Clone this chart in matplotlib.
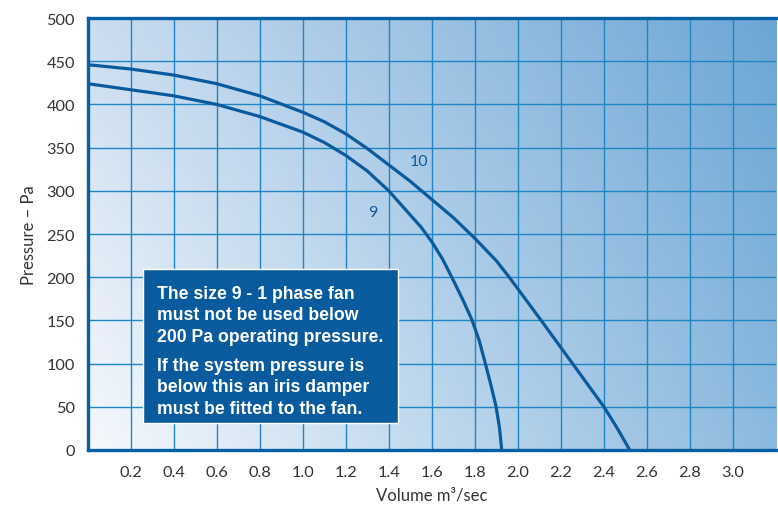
import numpy as np
import matplotlib.pyplot as plt

# Fan curves (volume m3/sec, pressure Pa)
vol_10 = [0.0, 0.2, 0.4, 0.6, 0.8, 1.0, 1.1, 1.2, 1.3, 1.4, 1.5, 1.6, 1.7, 1.8,
          1.9, 1.96, 2.04, 2.12, 2.19, 2.26, 2.33, 2.40, 2.46, 2.52]
pres_10 = [446, 441, 434, 424, 410, 391, 380, 366, 349, 330, 311, 290, 269, 245,
           219, 200, 173, 146, 122, 98, 74, 50, 26, 0]

vol_9 = [0.0, 0.2, 0.4, 0.6, 0.8, 1.0, 1.1, 1.2, 1.3, 1.4, 1.5, 1.55, 1.6, 1.65,
         1.693, 1.744, 1.786, 1.82, 1.848, 1.875, 1.899, 1.915, 1.925]
pres_9 = [424, 417, 410, 400, 386, 368, 356, 341, 323, 300, 272, 258, 241, 221,
          200, 174, 151, 127, 101, 75, 50, 25, 0]

x_ticks = [0.2, 0.4, 0.6, 0.8, 1.0, 1.2, 1.4, 1.6, 1.8, 2.0, 2.2, 2.4, 2.6, 2.8, 3.0]
y_ticks = [0, 50, 100, 150, 200, 250, 300, 350, 400, 450, 500]

note = ("The size 9 - 1 phase fan\nmust not be used below\n200 Pa operating pressure.")
note2 = ("If the system pressure is\nbelow this an iris damper\nmust be fitted to the fan.")

DARK = '#0a5b9e'
GRID = '#1f86c6'
TXT = '#333333'

plt.rcParams['font.family'] = ['Lato', 'DejaVu Sans']

fig = plt.figure(figsize=(7.78, 5.10), dpi=100)
ax = fig.add_axes([0.1125, 0.1157, 0.885, 0.8470])
ax.set_xlim(0, 3.2)
ax.set_ylim(0, 500)

# background gradient (bilinear between four corner colours)
c_bl = np.array([0xf6, 0xf9, 0xfd]) / 255
c_tl = np.array([0xcb, 0xdd, 0xf0]) / 255
c_br = np.array([0x8c, 0xba, 0xdf]) / 255
c_tr = np.array([0x6c, 0xa6, 0xd5]) / 255
u = np.linspace(0, 1, 300)[None, :, None]
v = np.linspace(0, 1, 200)[:, None, None]
img = (c_bl * (1 - u) * (1 - v) + c_br * u * (1 - v)
       + c_tl * (1 - u) * v + c_tr * u * v)
ax.imshow(img, extent=[0, 3.2, 0, 500], origin='lower', aspect='auto', zorder=0)

ax.set_xticks(x_ticks)
ax.set_yticks(y_ticks)
ax.grid(True, color=GRID, linewidth=1.0, zorder=1)
ax.set_axisbelow(False)
ax.tick_params(length=0, labelsize=11.7, labelcolor=TXT)
ax.tick_params(axis='x', pad=11)
ax.tick_params(axis='y', pad=9)
ax.set_xticklabels([f'{t:.1f}' for t in x_ticks])

for side in ['left', 'top', 'bottom']:
    ax.spines[side].set_color('#0560a6')
    ax.spines[side].set_linewidth(2.4)
    ax.spines[side].set_zorder(5)
ax.spines['right'].set_visible(False)

for vx, py in [(vol_10, pres_10), (vol_9, pres_9)]:
    ax.plot(vx, py, color=DARK, linewidth=2.3, zorder=3,
            solid_capstyle='butt', solid_joinstyle='round')

ax.text(1.54, 334, '10', color=DARK, fontsize=11.5, ha='center', va='center', zorder=4)
ax.text(1.325, 276, '9', color=DARK, fontsize=11.5, ha='center', va='center', zorder=4)

# warning box
ax.add_patch(plt.Rectangle((0.258, 31.5), 1.185, 178.5, facecolor='#0a5b9e',
                           edgecolor='white', linewidth=1.0, zorder=6))
ax.text(0.325, 191, note, color='white', fontsize=12.7, fontweight='bold',
        family=['Liberation Sans', 'DejaVu Sans'], va='top', ha='left',
        linespacing=1.34, zorder=7)
ax.text(0.325, 108, note2, color='white', fontsize=12.7, fontweight='bold',
        family=['Liberation Sans', 'DejaVu Sans'], va='top', ha='left',
        linespacing=1.34, zorder=7)

ax.set_xlabel('Volume m³/sec', fontsize=12, color=TXT, labelpad=5)
ax.set_ylabel('Pressure – Pa', fontsize=12, color=TXT, labelpad=7)

fig.savefig('out.png', dpi=100)
